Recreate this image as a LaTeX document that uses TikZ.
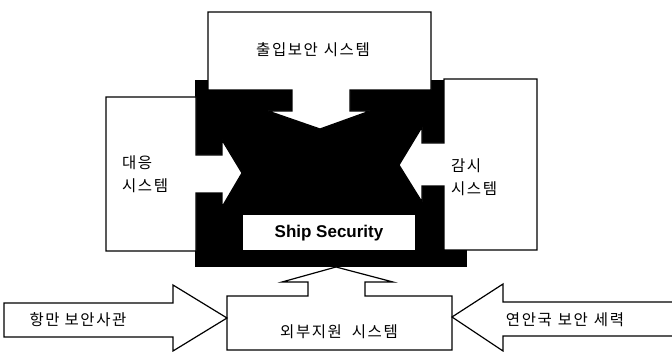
\documentclass[tikz,border=0pt]{standalone}
\usepackage{fontspec}
\setmainfont{Liberation Sans}
\newfontfamily\krfont[LetterSpace=10]{Noto Sans CJK KR}
\tikzset{
  outline/.style={draw=black, fill=white, line width=1.2pt, line join=miter},
  krtext/.style={font=\krfont\fontsize{15.5}{23}\selectfont, inner sep=0pt, align=left},
  shiptext/.style={font=\bfseries\fontsize{17}{19}\selectfont, inner sep=0pt},
  blackbox/.style={fill=black, draw=none}
}
\begin{document}
\begin{tikzpicture}[x=1pt,y=-1pt]
\useasboundingbox (0,0) rectangle (672,352);
\fill[white] (0,0) rectangle (672,352);
% central black block
\fill[black] (195,80) rectangle (467,267);
% top: entry security system (arrow down)
\draw[outline] (208,12) -- (431,12) -- (431,90) -- (350,90) -- (350,111) -- (370,111)
  -- (320,129) -- (268,111) -- (292,111) -- (292,90) -- (208,90) -- cycle;
% left: response system (arrow right)
\draw[outline] (106,97) -- (196,97) -- (196,155) -- (222,155) -- (222,140) -- (242,173)
  -- (222,207) -- (222,193) -- (196,193) -- (196,251) -- (106,251) -- cycle;
% right: monitoring system (arrow left)
\draw[outline] (444,79) -- (537,79) -- (537,250) -- (444,250) -- (444,186) -- (422,186)
  -- (422,202) -- (399,165) -- (422,127) -- (422,143) -- (444,143) -- cycle;
% ship security label box
\fill[white] (243,215) rectangle (415,250);
\node[shiptext] (ship) at (329,233) {Ship Security};
% bottom: external support system (arrow up)
\draw[outline] (227,296) -- (308,296) -- (308,282) -- (282,282) -- (336,267) -- (393,282)
  -- (365,282) -- (365,296) -- (452,296) -- (452,350) -- (227,350) -- cycle;
% bottom-left arrow
\draw[outline] (4,303) -- (173,303) -- (173,285) -- (227,318) -- (173,351) -- (173,337)
  -- (4,337) -- cycle;
% bottom-right arrow (open at the right edge)
\fill[white] (672,302) -- (503,302) -- (503,284) -- (452,317) -- (503,351) -- (503,336) -- (672,336) -- cycle;
\draw[line width=1.2pt, line join=miter] (672,302) -- (503,302) -- (503,284) -- (452,317)
  -- (503,351) -- (503,336) -- (672,336);
% texts
\node[krtext] (entry) at (313,50) {출입보안\hspace{6pt}시스템};
\node[krtext, anchor=west] (resp) at (122,174) {대응\\시스템};
\node[krtext, anchor=west] (mon) at (451,177) {감시\\시스템};
\node[krtext] (ext) at (339,332) {외부지원\hspace{10pt}시스템};
\node[krtext] (port) at (78,320) {항만\hspace{5pt}보안사관};
\node[krtext] (coast) at (565,320) {연안국\hspace{6pt}보안\hspace{6pt}세력};
\end{tikzpicture}
\end{document}
